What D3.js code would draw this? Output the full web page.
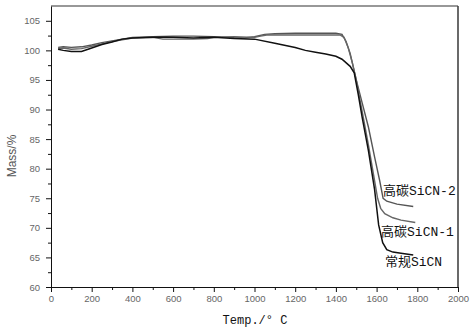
<!DOCTYPE html>
<html>
<head>
<meta charset="utf-8">
<script src="https://cdn.jsdelivr.net/npm/d3@7"></script>
<style>
  body { margin: 0; background: #fff; }
  .axis text { font-family: Arial, "Liberation Sans", sans-serif; font-size: 9.5px; fill: #666; }
  .axis path, .axis line { stroke: #111; }
  .lbl { font-family: "Liberation Mono", "Noto Sans CJK SC", monospace; font-size: 13px; fill: #111; }
</style>
</head>
<body>
<svg width="474" height="334"></svg>
<script>
// x ticks / y ticks
let xTicks = [0, 200, 400, 600, 800, 1000, 1200, 1400, 1600, 1800, 2000];
let yTicks = [60, 65, 70, 75, 80, 85, 90, 95, 100, 105];

// 常规SiCN
let convTemp = [35, 60, 100, 150, 200, 250, 300, 350, 400, 500, 600, 700, 800, 900, 1000, 1100, 1200, 1250, 1300, 1350, 1400, 1430, 1470, 1490, 1510, 1530, 1560, 1590, 1610, 1630, 1650, 1680, 1720, 1780];
let convMass = [100.2, 100.0, 99.8, 99.8, 100.4, 101.0, 101.4, 101.9, 102.1, 102.2, 102.2, 102.1, 102.2, 102.0, 101.9, 101.2, 100.5, 100.0, 99.7, 99.4, 99.0, 98.5, 97.3, 96.2, 92.5, 88.5, 83.0, 76.5, 70.5, 67.5, 66.3, 65.9, 65.7, 65.4];

// 高碳SiCN-1
let c1Temp = [35, 60, 100, 150, 200, 250, 300, 350, 400, 500, 550, 600, 700, 770, 800, 900, 1000, 1030, 1060, 1200, 1300, 1420, 1440, 1460, 1480, 1500, 1530, 1560, 1585, 1605, 1620, 1640, 1680, 1720, 1790];
let c1Mass = [100.3, 100.4, 100.2, 100.3, 100.7, 101.1, 101.5, 101.8, 102.1, 102.2, 101.9, 101.9, 101.9, 102.0, 102.2, 102.3, 102.2, 102.4, 102.6, 102.6, 102.6, 102.6, 102.2, 100.5, 98.0, 95.0, 89.5, 84.0, 79.0, 75.0, 73.3, 72.4, 71.7, 71.3, 70.9];

// 高碳SiCN-2
let c2Temp = [35, 60, 100, 150, 200, 250, 300, 350, 400, 500, 600, 700, 800, 900, 950, 1000, 1050, 1100, 1200, 1300, 1400, 1430, 1450, 1470, 1500, 1530, 1560, 1590, 1615, 1632, 1650, 1700, 1780];
let c2Mass = [100.5, 100.6, 100.5, 100.6, 100.9, 101.3, 101.6, 101.9, 102.2, 102.3, 102.4, 102.4, 102.3, 102.2, 102.1, 102.3, 102.7, 102.8, 102.9, 102.9, 102.9, 102.7, 101.5, 99.5, 95.0, 91.0, 87.0, 82.0, 78.0, 75.0, 74.5, 74.0, 73.6];

let svg = d3.select("svg"),
    margin = {top: 6, right: 16, bottom: 47, left: 51},
    width = +svg.attr("width") - margin.left - margin.right,
    height = +svg.attr("height") - margin.top - margin.bottom;

let x = d3.scaleLinear().domain([0, 2000]).range([0, width]),
    y = d3.scaleLinear().domain([60, 107.5]).range([height, 0]);

let g = svg.append("g")
    .attr("transform", "translate(" + margin.left + "," + margin.top + ")");

// frame top + right
g.append("line").attr("x1", 0).attr("x2", width).attr("y1", 0).attr("y2", 0)
    .attr("stroke", "#333").attr("stroke-width", 1.2);
g.append("line").attr("x1", width).attr("x2", width).attr("y1", 0).attr("y2", height)
    .attr("stroke", "#444").attr("stroke-width", 1.6);

// minor ticks
g.append("g")
    .attr("class", "axis")
    .attr("transform", "translate(0," + height + ")")
    .call(d3.axisBottom(x).tickValues(d3.range(100, 2000, 200)).tickSize(3).tickFormat(""))
    .select(".domain").remove();
g.append("g")
    .attr("class", "axis")
    .call(d3.axisLeft(y).tickValues(d3.range(62.5, 107.5, 5)).tickSize(3).tickFormat(""))
    .select(".domain").remove();

g.append("g")
    .attr("class", "axis")
    .attr("transform", "translate(0," + height + ")")
    .call(d3.axisBottom(x).tickValues(xTicks).tickFormat(d3.format("d")).tickSize(5).tickSizeOuter(0).tickPadding(3));

g.append("g")
    .attr("class", "axis")
    .call(d3.axisLeft(y).tickValues(yTicks).tickFormat(d3.format("d")).tickSize(5).tickSizeOuter(0).tickPadding(6));

let line = d3.line()
    .x(function(d) { return x(d[0]); })
    .y(function(d) { return y(d[1]); });

let series = [
  {temp: c2Temp, mass: c2Mass, color: "#555", w: 1.4},
  {temp: c1Temp, mass: c1Mass, color: "#666", w: 1.4},
  {temp: convTemp, mass: convMass, color: "#111", w: 1.5}
];

series.forEach(function(s) {
  g.append("path")
      .datum(d3.zip(s.temp, s.mass))
      .attr("fill", "none")
      .attr("stroke", s.color)
      .attr("stroke-width", s.w)
      .attr("d", line);
});

// curve labels
g.append("text").attr("class", "lbl")
    .attr("x", x(1631)).attr("y", y(76.1)).attr("dominant-baseline", "central")
    .text("高碳SiCN-2");
g.append("text").attr("class", "lbl")
    .attr("x", x(1622)).attr("y", y(69.2)).attr("dominant-baseline", "central")
    .text("高碳SiCN-1");
g.append("text").attr("class", "lbl")
    .attr("x", x(1641)).attr("y", y(64.1)).attr("dominant-baseline", "central")
    .text("常规SiCN");

// axis titles
svg.append("text")
    .attr("x", 255).attr("y", 324)
    .attr("text-anchor", "middle")
    .style("font-family", "'Liberation Mono', monospace")
    .style("font-size", "12px")
    .style("fill", "#111")
    .text("Temp./° C");

svg.append("text")
    .attr("transform", "translate(16,156) rotate(-90)")
    .attr("text-anchor", "middle")
    .style("font-family", "Arial, 'Liberation Sans', sans-serif")
    .style("font-size", "12px")
    .style("fill", "#555")
    .text("Mass/%");
</script>
</body>
</html>
